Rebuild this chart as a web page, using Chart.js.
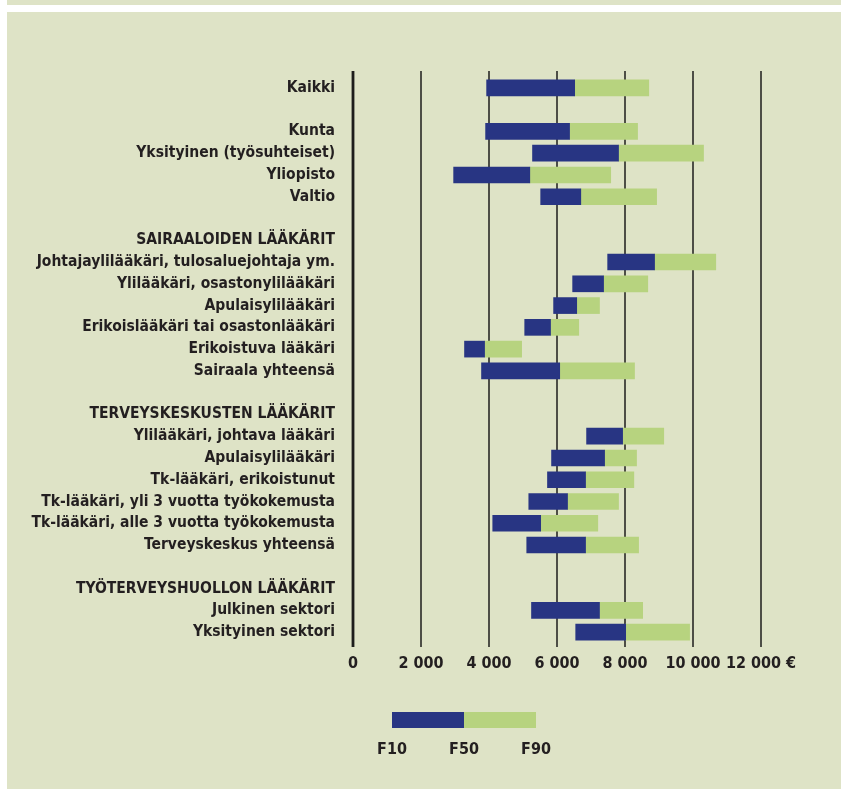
<!DOCTYPE html>
<html lang="fi">
<head>
<meta charset="utf-8">
<title>Lääkärien ansiot</title>
<script src="https://cdn.jsdelivr.net/npm/chart.js@4/dist/chart.umd.min.js"></script>
<style>
    html, body { margin: 0; padding: 0; background: #ffffff; }
    body { width: 841px; height: 789px; position: relative; overflow: hidden;
           font-family: 'Liberation Sans Narrow', 'DejaVu Sans Condensed', sans-serif; }
    .topStripe { position: absolute; left: 7px; top: 0; width: 834px; height: 5px; background: #dee3c6; }
    .panel { position: absolute; left: 7px; top: 12px; width: 834px; height: 777px; background: #dee3c6; }
    .chartBox { position: absolute; left: 0; top: 0; width: 841px; height: 789px; }
    .legendBar { position: absolute; top: 712px; height: 16px; width: 72px; }
    .legendLabel { position: absolute; top: 739px; width: 60px; margin-left: -30px; text-align: center;
                   font-weight: bold; font-size: 16px; color: #231f20; }
</style>
</head>
<body>
<div class="topStripe"></div>
<div class="panel"></div>
<div class="chartBox"><canvas id="palkkaChart"></canvas></div>

<!-- legend: F10 - F50 - F90 -->
<div class="legendBar" style="left:392px; background:#283583;"></div>
<div class="legendBar" style="left:464px; background:#b7d37f;"></div>
<div class="legendLabel" style="left:392px;">F10</div>
<div class="legendLabel" style="left:464px;">F50</div>
<div class="legendLabel" style="left:536px;">F90</div>

<script>
// Row labels (empty strings are the gaps between groups)
const categories = [
    'Kaikki',
    '',
    'Kunta',
    'Yksityinen (työsuhteiset)',
    'Yliopisto',
    'Valtio',
    '',
    'SAIRAALOIDEN LÄÄKÄRIT',
    'Johtajaylilääkäri, tulosaluejohtaja ym.',
    'Ylilääkäri, osastonylilääkäri',
    'Apulaisylilääkäri',
    'Erikoislääkäri tai osastonlääkäri',
    'Erikoistuva lääkäri',
    'Sairaala yhteensä',
    '',
    'TERVEYSKESKUSTEN LÄÄKÄRIT',
    'Ylilääkäri, johtava lääkäri',
    'Apulaisylilääkäri',
    'Tk-lääkäri, erikoistunut',
    'Tk-lääkäri, yli 3 vuotta työkokemusta',
    'Tk-lääkäri, alle 3 vuotta työkokemusta',
    'Terveyskeskus yhteensä',
    '',
    'TYÖTERVEYSHUOLLON LÄÄKÄRIT',
    'Julkinen sektori',
    'Yksityinen sektori'
];

// Decile values in euros per month (null = no bar on that row)
const f10 = [3930, null, 3900, 5280, 2960, 5520, null, null, 7490, 6460, 5900, 5050, 3280, 3780,
             null, null, 6870, 5840, 5720, 5170, 4110, 5110, null, null, 5250, 6550];
const f50 = [6520, null, 6370, 7810, 5200, 6700, null, null, 8870, 7370, 6580, 5810, 3870, 6080,
             null, null, 7930, 7400, 6840, 6310, 5520, 6840, null, null, 7250, 8020];
const f90 = [8700, null, 8370, 10310, 7580, 8930, null, null, 10670, 8670, 7250, 6640, 4960, 8280,
             null, null, 9140, 8340, 8260, 7810, 7200, 8400, null, null, 8520, 9900];

// x axis ticks
const tickValues = [0, 2000, 4000, 6000, 8000, 10000, 12000];

const fontFamily = "'Liberation Sans Narrow', 'DejaVu Sans Condensed', sans-serif";
const textColor = '#231f20';

// Build floating bar ranges from the arrays
function toRanges(from, to) {
    return from.map((v, i) => (v === null || to[i] === null) ? null : [v, to[i]]);
}

// Format numbers like "12 000"
function formatTick(value) {
    const s = String(value).replace(/\B(?=(\d{3})+(?!\d))/g, ' ');
    return value === 12000 ? s + ' €' : s;
}

// Vertical grid lines drawn a bit past the plot area, like in print
const gridPlugin = {
    id: 'printGrid',
    beforeDatasetsDraw(chart) {
        const ctx = chart.ctx;
        const x = chart.scales.x;
        const area = chart.chartArea;
        ctx.save();
        ctx.strokeStyle = '#1d1d1b';
        tickValues.forEach(v => {
            const px = x.getPixelForValue(v);
            ctx.lineWidth = v === 0 ? 2.8 : 1.5;
            ctx.beginPath();
            ctx.moveTo(px, area.top - 6);
            ctx.lineTo(px, area.bottom + 4);
            ctx.stroke();
        });
        ctx.restore();
    }
};

document.addEventListener('DOMContentLoaded', function() {
    const ctx = document.getElementById('palkkaChart').getContext('2d');

    new Chart(ctx, {
        type: 'bar',
        data: {
            labels: categories,
            datasets: [
                {
                    label: 'F10–F50',
                    data: toRanges(f10, f50),
                    backgroundColor: '#283583',
                    borderWidth: 0,
                    barThickness: 16,
                    grouped: false
                },
                {
                    label: 'F50–F90',
                    data: toRanges(f50, f90),
                    backgroundColor: '#b7d37f',
                    borderWidth: 0,
                    barThickness: 16,
                    grouped: false
                }
            ]
        },
        options: {
            indexAxis: 'y',
            responsive: true,
            maintainAspectRatio: false,
            animation: false,
            layout: {
                padding: { left: 0, right: 80, top: 77, bottom: 106 }
            },
            plugins: {
                legend: { display: false },
                tooltip: { enabled: false }
            },
            scales: {
                x: {
                    type: 'linear',
                    min: 0,
                    max: 12000,
                    afterBuildTicks: scale => {
                        scale.ticks = tickValues.map(v => ({ value: v }));
                    },
                    afterFit: scale => { scale.height = 40; },
                    grid: { display: false },
                    border: { display: false },
                    ticks: {
                        autoSkip: false,
                        maxRotation: 0,
                        minRotation: 0,
                        padding: 3,
                        color: textColor,
                        font: { family: fontFamily, size: 16, weight: 'bold' },
                        callback: value => formatTick(value)
                    }
                },
                y: {
                    afterFit: scale => { scale.width = 353; },
                    grid: { display: false },
                    border: { display: false },
                    ticks: {
                        autoSkip: false,
                        padding: 10,
                        color: textColor,
                        font: { family: fontFamily, size: 15.5, weight: 'bold' }
                    }
                }
            }
        },
        plugins: [gridPlugin]
    });
});
</script>
</body>
</html>
